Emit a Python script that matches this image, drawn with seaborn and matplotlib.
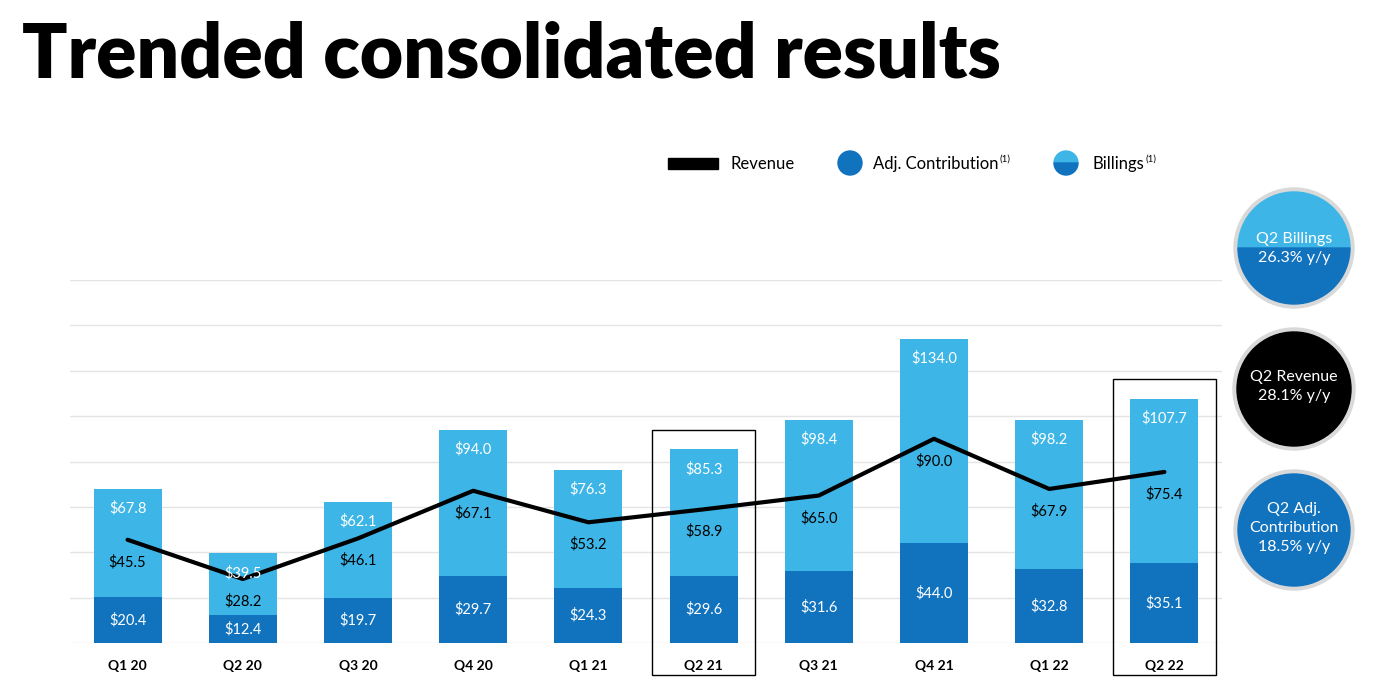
import numpy as np
import pandas as pd
import matplotlib
matplotlib.use('Agg')
import matplotlib.pyplot as plt
import seaborn as sns
from matplotlib.patches import Circle, Rectangle, Wedge

quarters = ['Q1 20', 'Q2 20', 'Q3 20', 'Q4 20', 'Q1 21', 'Q2 21', 'Q3 21', 'Q4 21', 'Q1 22', 'Q2 22']
billings = [67.8, 39.5, 62.1, 94.0, 76.3, 85.3, 98.4, 134.0, 98.2, 107.7]
revenue = [45.5, 28.2, 46.1, 67.1, 53.2, 58.9, 65.0, 90.0, 67.9, 75.4]
adj_contribution = [20.4, 12.4, 19.7, 29.7, 24.3, 29.6, 31.6, 44.0, 32.8, 35.1]
highlighted = ['Q2 21', 'Q2 22']

LIGHT = '#3db5e6'
DARK = '#1172be'

sns.set_theme(style='white')
plt.rcParams['font.family'] = ['Lato', 'DejaVu Sans']
plt.rcParams['text.color'] = 'black'
plt.rcParams['xtick.color'] = 'black'

df = pd.DataFrame({'quarter': quarters, 'billings': billings,
                   'revenue': revenue, 'adj': adj_contribution})

fig = plt.figure(figsize=(13.76, 6.86), dpi=100)
ax = fig.add_axes([70 / 1376, 1 - 643 / 686, (1222 - 70) / 1376, (643 - 280) / 686])

# barres : billings en entier, contribution par-dessus
sns.barplot(data=df, x='quarter', y='billings', color=LIGHT, width=0.59,
            saturation=1, linewidth=0, ax=ax, zorder=2)
sns.barplot(data=df, x='quarter', y='adj', color=DARK, width=0.59,
            saturation=1, linewidth=0, ax=ax, zorder=3)
ax.plot(np.arange(len(quarters)), df['revenue'], color='black', lw=3, zorder=4)

ax.set_xlim(-0.5, len(quarters) - 0.5)
ax.set_ylim(0, 160)
ax.set_yticks(np.arange(0, 161, 20))
ax.yaxis.grid(True, color='#e4e4e4', lw=1)
ax.set_axisbelow(True)
ax.tick_params(axis='y', left=False, labelleft=False)
ax.tick_params(axis='x', bottom=False, pad=6)
for lab in ax.get_xticklabels():
    lab.set_fontweight('bold')
    lab.set_fontsize(10)
ax.set_xlabel('')
ax.set_ylabel('')
sns.despine(ax=ax, left=True, bottom=True)

# étiquettes de valeurs
for i, row in df.iterrows():
    ax.annotate(f'${row.billings:.1f}', (i, row.billings), xytext=(0, -14),
                textcoords='offset points', ha='center', va='center',
                color='white', fontsize=10.5, zorder=5)
    ax.annotate(f'${row.revenue:.1f}', (i, row.revenue), xytext=(0, -16),
                textcoords='offset points', ha='center', va='center',
                color='black', fontsize=10.5, zorder=5)
    ax.text(i, row.adj / 2, f'${row.adj:.1f}', ha='center', va='center',
            color='white', fontsize=10.5, zorder=5)

# cadres autour des trimestres mis en avant
for q in highlighted:
    i = quarters.index(q)
    top = df.loc[i, 'billings'] + 8.5
    ax.add_patch(Rectangle((i - 0.45, -14), 0.9, top + 14, fill=False,
                           edgecolor='black', lw=1, clip_on=False, zorder=6))

fig.text(22 / 1376, 1 - 55 / 686, 'Trended consolidated results', fontsize=54,
         fontweight='heavy', va='center', ha='left', color='black')

# calque en pixels pour la légende et les bulles
ov = fig.add_axes([0, 0, 1, 1], facecolor='none')
ov.set_xlim(0, 1376)
ov.set_ylim(686, 0)
ov.set_aspect('equal')
ov.axis('off')

ov.add_patch(Rectangle((668, 158), 50, 11, color='black'))
ov.text(730, 164, 'Revenue', fontsize=12, va='center')
ov.add_patch(Circle((850, 163), 12, color=DARK))
ov.text(873, 164, 'Adj. Contribution', fontsize=12, va='center')
ov.text(1000, 159, '(1)', fontsize=7, va='center')
# y inversé : 180-360 = moitié haute
ov.add_patch(Wedge((1066, 163), 12, 180, 360, color=LIGHT))
ov.add_patch(Wedge((1066, 163), 12, 0, 180, color=DARK))
ov.text(1092, 164, 'Billings', fontsize=12, va='center')
ov.text(1145, 159, '(1)', fontsize=7, va='center')

# bulles à droite
cx = 1294
ov.add_patch(Circle((cx, 248), 60, color='#d9d9d9'))
ov.add_patch(Wedge((cx, 248), 56, 180, 360, color=LIGHT))
ov.add_patch(Wedge((cx, 248), 56, 0, 180, color=DARK))
ov.text(cx, 239, 'Q2 Billings', color='white', fontsize=11.5, ha='center', va='center')
ov.text(cx, 258, '26.3% y/y', color='white', fontsize=11.5, ha='center', va='center')

ov.add_patch(Circle((cx, 389), 61, color='#d9d9d9'))
ov.add_patch(Circle((cx, 389), 57, color='black'))
ov.text(cx, 377, 'Q2 Revenue', color='white', fontsize=11.5, ha='center', va='center')
ov.text(cx, 396, '28.1% y/y', color='white', fontsize=11.5, ha='center', va='center')

ov.add_patch(Circle((cx, 530), 60, color='#d9d9d9'))
ov.add_patch(Circle((cx, 530), 56, color=DARK))
ov.text(cx, 509, 'Q2 Adj.', color='white', fontsize=11.5, ha='center', va='center')
ov.text(cx, 528, 'Contribution', color='white', fontsize=11.5, ha='center', va='center')
ov.text(cx, 547, '18.5% y/y', color='white', fontsize=11.5, ha='center', va='center')

fig.savefig('out.png', dpi=100)
